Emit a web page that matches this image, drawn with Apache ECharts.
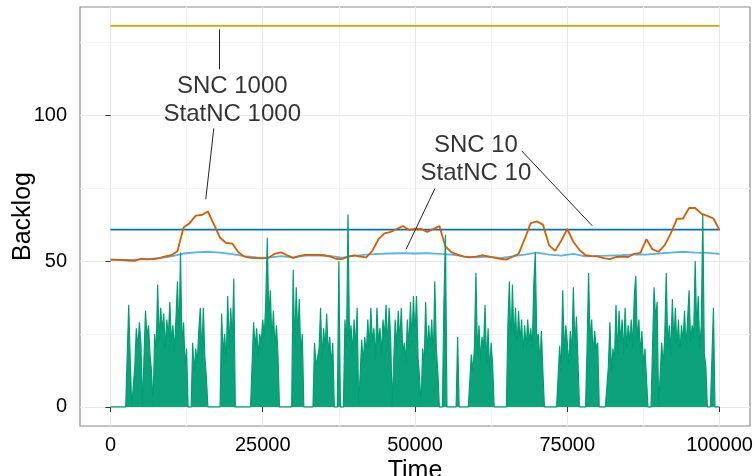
<!DOCTYPE html>
<html>
<head>
<meta charset="utf-8">
<script src="https://cdn.jsdelivr.net/npm/echarts@6/dist/echarts.min.js"></script>
<style>
  html, body { margin: 0; padding: 0; background: #fff; }
  #chart { width: 755px; height: 476px; }
</style>
</head>
<body>
<div id="chart"></div>
<script>
  // backlog samples, one every 250 time units (0 .. 100000)
  const backlogStep = 250;
  const backlog = [
    0, 0, 0, 0, 0, 0, 0, 0, 0, 0,
    0, 0, 35, 16, 0, 0, 14, 27, 20, 29,
    22, 0, 0, 33, 24, 28, 18, 12, 0, 25,
    18, 42, 22, 34, 26, 32, 20, 30, 24, 36,
    22, 28, 19, 30, 43, 24, 53, 20, 29, 14,
    20, 0, 0, 0, 22, 12, 20, 15, 26, 34,
    18, 34, 17, 10, 0, 0, 0, 0, 0, 0,
    0, 0, 0, 32, 18, 25, 15, 38, 20, 34,
    22, 44, 0, 0, 0, 0, 0, 0, 0, 0,
    0, 0, 0, 0, 29, 20, 27, 17, 25, 22,
    30, 24, 36, 58, 30, 40, 22, 33, 20, 28,
    18, 0, 0, 0, 0, 0, 0, 0, 0, 0,
    47, 20, 41, 24, 37, 18, 25, 0, 0, 0,
    0, 0, 0, 0, 22, 14, 17, 20, 34, 16,
    27, 20, 32, 18, 24, 14, 22, 0, 0, 0,
    50, 0, 0, 0, 30, 20, 66, 22, 28, 18,
    30, 20, 34, 0, 0, 23, 15, 24, 18, 30,
    20, 34, 22, 27, 16, 34, 22, 27, 18, 30,
    24, 35, 20, 34, 24, 0, 0, 30, 20, 33,
    22, 34, 18, 22, 15, 30, 20, 36, 22, 38,
    24, 38, 17, 10, 0, 20, 14, 36, 18, 28,
    20, 30, 16, 43, 20, 12, 0, 0, 0, 36,
    59, 0, 0, 0, 0, 0, 0, 0, 24, 0,
    0, 0, 0, 0, 0, 0, 0, 18, 12, 20,
    46, 18, 28, 16, 24, 20, 35, 14, 27, 12,
    22, 14, 0, 0, 0, 0, 0, 0, 0, 0,
    0, 28, 43, 20, 42, 22, 34, 20, 33, 22,
    30, 18, 28, 20, 30, 22, 27, 20, 42, 53,
    22, 25, 15, 26, 12, 0, 0, 0, 0, 0,
    0, 0, 0, 0, 0, 21, 12, 40, 18, 28,
    22, 14, 26, 18, 41, 20, 31, 16, 0, 0,
    0, 0, 0, 20, 46, 22, 30, 18, 26, 20,
    22, 0, 0, 0, 0, 0, 0, 14, 29, 12,
    20, 16, 35, 18, 33, 22, 30, 18, 34, 20,
    28, 22, 30, 20, 38, 45, 22, 30, 18, 26,
    14, 20, 10, 0, 0, 0, 0, 41, 30, 36,
    0, 0, 22, 14, 24, 46, 20, 28, 18, 37,
    22, 34, 20, 30, 18, 28, 22, 33, 20, 30,
    40, 22, 28, 24, 50, 26, 38, 20, 28, 66,
    18, 14, 0, 0, 0, 0, 34, 0, 0, 0,
    0
  ];

  // StatNC 1000, every 1000
  const statStep1000 = 1000;
  const statNC1000 = [
    50.5, 50.4, 50.3, 50.2, 50.1, 50.8, 50.6, 50.7, 51.0, 51.6,
    52.0, 53.4, 61.5, 63.0, 65.6, 65.8, 67.0, 62.5, 58.0, 56.2,
    56.0, 53.0, 51.5, 51.1, 51.0, 50.9, 51.2, 52.5, 53.0, 52.0,
    51.1, 51.8, 52.1, 52.1, 52.1, 52.0, 51.6, 50.8, 50.7, 51.5,
    52.0, 51.5, 51.3, 53.5, 57.5, 59.5, 60.0, 61.0, 62.0, 60.7,
    61.0, 61.0, 60.0, 61.0, 62.0, 55.0, 53.0, 52.2, 51.5, 51.3,
    51.5, 52.0, 51.6, 51.2, 50.8, 50.5, 51.5, 52.5, 57.5, 63.0,
    63.6, 62.5, 55.5, 53.5, 57.0, 61.0, 56.6, 53.8, 52.0, 51.7,
    51.6, 51.0, 50.7, 51.4, 51.5, 51.4, 52.5, 52.8, 57.5, 54.0,
    53.2, 55.5, 59.5, 64.5, 64.6, 68.2, 68.2, 66.3, 65.5, 64.6,
    60.6
  ];

  // StatNC 10, every 2000
  const statStep10 = 2000;
  const statNC10 = [
    50.5, 50.4, 50.5, 50.7, 51.0, 51.6, 52.6, 53.0, 53.2, 52.9,
    52.4, 51.7, 51.3, 51.2, 51.7, 51.2, 51.9, 52.0, 51.8, 51.2,
    51.8, 52.2, 52.5, 52.6, 52.7, 52.6, 52.7, 52.5, 52.2, 51.6,
    51.3, 51.5, 51.0, 51.6, 52.2, 52.9, 52.2, 51.9, 52.5, 51.6,
    51.8, 51.9, 52.0, 52.3, 52.2, 52.6, 52.9, 53.2, 52.9, 52.8,
    52.5
  ];

  const snc1000 = 130.6;
  const snc10 = 60.8;
  const timeRange = [0, 100000];

  const xTicks = [0, 25000, 50000, 75000, 100000];
  const xMinor = [12500, 37500, 62500, 87500];
  const yTicks = [0, 50, 100];
  const yMinor = [25, 75, 125];

  const labels = [
    [20000, 105, "SNC 1000\nStatNC 1000"],
    [60000, 85, "SNC 10\nStatNC 10"],
  ];
  const leaders = [
    [[17840, 129.4], [17840, 115.7]],
    [[16970, 95.5], [15650, 71.2]],
    [[67510, 87.8], [79100, 62.1]],
    [[53280, 74.9], [48520, 54.0]],
  ];

  const toPairs = (arr, step) => arr.map((v, i) => [i * step, v]);

  const font = "'Liberation Sans', Arial, sans-serif";
  const chart = echarts.init(document.getElementById("chart"));

  const axisCommon = {
    axisLine: { show: false },
    axisTick: { show: true, length: 5, lineStyle: { color: "#333", width: 1 } },
    axisLabel: { fontSize: 20, color: "#000", fontFamily: font, formatter: (v) => String(v) },
    splitLine: { show: true, lineStyle: { color: "#e8e8e8", width: 1 } },
  };

  const option = {
    animation: false,
    backgroundColor: "#fff",
    grid: {
      left: 80,
      right: 5,
      top: 7,
      bottom: 50,
      containLabel: false,
      outerBoundsMode: "none",
      show: true,
      borderColor: "#8c8c8c",
      borderWidth: 1.2,
      backgroundColor: "#fff",
    },
    xAxis: [
      {
        type: "value",
        min: -5000,
        max: 105000,
        ...axisCommon,
        axisTick: { ...axisCommon.axisTick, customValues: xTicks },
        axisLabel: { ...axisCommon.axisLabel, customValues: xTicks, margin: 9 },
        name: "Time",
        nameLocation: "middle",
        nameGap: 33,
        nameMoveOverlap: false,
        nameTextStyle: { fontSize: 25, color: "#000", fontFamily: font },
      },
      {
        type: "value",
        min: -5000,
        max: 105000,
        axisLine: { show: false },
        axisTick: { show: false, customValues: xMinor },
        axisLabel: { show: false, customValues: xMinor },
        splitLine: { show: true, lineStyle: { color: "#f4f4f4", width: 1 } },
      },
    ],
    yAxis: [
      {
        type: "value",
        min: -6.53,
        max: 137.1,
        ...axisCommon,
        axisTick: { ...axisCommon.axisTick, customValues: yTicks },
        axisLabel: { ...axisCommon.axisLabel, customValues: yTicks, margin: 13 },
        name: "Backlog",
        nameLocation: "middle",
        nameGap: 44,
        nameMoveOverlap: false,
        nameTextStyle: { fontSize: 25, color: "#000", fontFamily: font },
      },
      {
        type: "value",
        min: -6.53,
        max: 137.1,
        axisLine: { show: false },
        axisTick: { show: false, customValues: yMinor },
        axisLabel: { show: false, customValues: yMinor },
        splitLine: { show: true, lineStyle: { color: "#f4f4f4", width: 1 } },
      },
    ],
    series: [
      {
        name: "SNC 1000",
        type: "line",
        symbol: "none",
        lineStyle: { color: "#E69F00", width: 1.8 },
        data: timeRange.map((t) => [t, snc1000]),
        markLine: {
          silent: true,
          symbol: "none",
          label: { show: false },
          lineStyle: { color: "#222", width: 1, type: "solid" },
          data: leaders.map((l) => [{ coord: l[0] }, { coord: l[1] }]),
        },
        z: 2,
      },
      {
        name: "SNC 10",
        type: "line",
        symbol: "none",
        lineStyle: { color: "#0072B2", width: 1.8 },
        data: timeRange.map((t) => [t, snc10]),
        z: 2,
      },
      {
        name: "StatNC 10",
        type: "line",
        symbol: "none",
        lineStyle: { color: "#56B4E9", width: 1.8 },
        data: toPairs(statNC10, statStep10),
        z: 3,
      },
      {
        name: "StatNC 1000",
        type: "line",
        symbol: "none",
        lineStyle: { color: "#D55E00", width: 1.8 },
        data: toPairs(statNC1000, statStep1000),
        z: 4,
      },
      {
        name: "Backlog",
        type: "line",
        symbol: "none",
        lineStyle: { color: "#009E73", width: 1.2 },
        areaStyle: { color: "#009E73", opacity: 0.95 },
        data: toPairs(backlog, backlogStep),
        z: 5,
      },
      {
        name: "labels",
        type: "scatter",
        symbolSize: 0,
        data: labels,
        label: {
          show: true,
          position: "inside",
          formatter: (p) => p.value[2],
          fontSize: 24,
          lineHeight: 28,
          align: "center",
          color: "#000",
          fontFamily: font,
        },
        z: 6,
      },
    ],
  };

  chart.setOption(option);
</script>
</body>
</html>
